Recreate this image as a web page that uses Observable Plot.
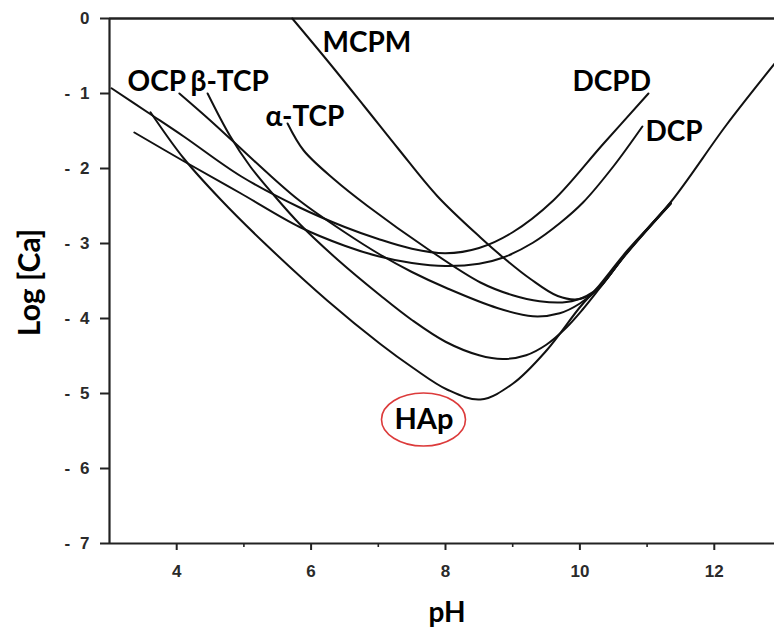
<!DOCTYPE html>
<html>
<head>
<meta charset="utf-8">
<script src="https://cdn.jsdelivr.net/npm/d3@7"></script>
<script src="https://cdn.jsdelivr.net/npm/@observablehq/plot@0.6"></script>
<style>
  html, body { margin: 0; padding: 0; background: #fff; }
</style>
</head>
<body>
<div id="chart"></div>
<script>
// ---- Solubility isotherms: log[Ca] vs pH ----
const mcpmPH  = [5.72, 6.25, 6.8, 7.3, 7.88, 8.52, 8.85, 9.26, 9.67, 10.0, 10.25, 10.7, 11.35];
const mcpmLog = [0, -0.57, -1.18, -1.74, -2.37, -2.92, -3.18, -3.47, -3.7, -3.74, -3.62, -3.12, -2.46];

const dcpdPH  = [3.03, 3.6, 4.1, 4.95, 5.83, 6.5, 7.0, 7.5, 8.0, 8.5, 9.0, 9.6, 10.34, 11.02];
const dcpdLog = [-0.93, -1.27, -1.57, -2.1, -2.52, -2.78, -2.94, -3.07, -3.13, -3.06, -2.85, -2.43, -1.68, -1.0];

const dcpPH  = [3.37, 4.1, 4.95, 5.83, 6.5, 7.0, 7.5, 8.0, 8.5, 8.85, 9.3, 9.7, 10.05, 10.5, 10.93];
const dcpLog = [-1.52, -1.9, -2.33, -2.78, -3.03, -3.17, -3.26, -3.3, -3.27, -3.19, -2.99, -2.73, -2.45, -1.97, -1.44];

const ocpPH  = [4.04, 4.45, 4.83, 5.4, 5.83, 6.5, 7.03, 7.5, 8.03, 8.77, 9.3, 9.7, 10.0, 10.3, 10.7, 11.35];
const ocpLog = [-1.0, -1.32, -1.63, -2.1, -2.43, -2.85, -3.15, -3.38, -3.6, -3.86, -3.97, -3.93, -3.8, -3.58, -3.12, -2.47];

const btcpPH  = [4.46, 4.79, 5.1, 5.45, 5.83, 6.4, 7.04, 7.5, 8.0, 8.5, 8.85, 9.2, 9.5, 9.8, 10.05, 10.3, 10.7, 11.35];
const btcpLog = [-1.0, -1.56, -1.98, -2.36, -2.74, -3.22, -3.7, -4.02, -4.31, -4.49, -4.54, -4.49, -4.35, -4.12, -3.87, -3.59, -3.13, -2.47];

const atcpPH  = [5.65, 5.89, 6.35, 6.84, 7.73, 8.52, 9.0, 9.4, 9.8, 10.1, 10.3, 10.7, 11.35];
const atcpLog = [-1.4, -1.76, -2.15, -2.5, -3.07, -3.52, -3.69, -3.77, -3.78, -3.7, -3.57, -3.12, -2.46];

const hapPH  = [3.61, 4.1, 4.65, 5.3, 6.24, 7.03, 7.52, 8.03, 8.52, 9.0, 9.5, 10.0, 10.25, 10.7, 11.35, 12.18, 12.9];
const hapLog = [-1.25, -1.86, -2.41, -2.99, -3.76, -4.34, -4.66, -4.95, -5.08, -4.87, -4.43, -3.85, -3.6, -3.1, -2.45, -1.42, -0.6];

// ---- Phase labels (placed in data units) ----
const labelNames = ["MCPM", "OCP", "β-TCP", "α-TCP", "DCPD", "DCP"];
const labelPH    = [6.17, 3.268, 4.205, 5.32, 9.89, 10.976];
const labelLog   = [-0.453, -0.96, -0.96, -1.427, -0.96, -1.627];

const hapLabel = ["HAp"];
const hapLabelPH = [7.68];
const hapLabelLog = [-5.467];

// ---- Axes ----
const xTicks = [4, 6, 8, 10, 12];
const xTickText = ["4", "6", "8", "10", "12"];
const xMinorTicks = [5, 7, 9, 11];
const yTicks = [0, -1, -2, -3, -4, -5, -6, -7];
const yTickText = ["0", "-\u2002\u200a1", "-\u2002\u200a2", "-\u2002\u200a3", "-\u2002\u200a4", "-\u2002\u200a5", "-\u2002\u200a6", "-\u2002\u200a7"];
const xTitle = "pH";
const yTitle = "Log [Ca]";

// ---- Build tables ----
const series = [
  {name: "MCPM", ph: mcpmPH, log: mcpmLog},
  {name: "DCPD", ph: dcpdPH, log: dcpdLog},
  {name: "DCP", ph: dcpPH, log: dcpLog},
  {name: "OCP", ph: ocpPH, log: ocpLog},
  {name: "β-TCP", ph: btcpPH, log: btcpLog},
  {name: "α-TCP", ph: atcpPH, log: atcpLog},
  {name: "HAp", ph: hapPH, log: hapLog}
];
const rows = series.flatMap(s => s.ph.map((p, i) => ({name: s.name, pH: p, logCa: s.log[i]})));
const labels = labelNames.map((n, i) => ({name: n, pH: labelPH[i], logCa: labelLog[i]}));
const hapLabels = hapLabel.map((n, i) => ({name: n, pH: hapLabelPH[i], logCa: hapLabelLog[i]}));

function ringMark(...args) {
  const scales = args.find(a => a && typeof a.x === "function" && typeof a.y === "function");
  const g = d3.create("svg:g");
  hapLabels.forEach(d => {
    g.append("ellipse")
      .attr("cx", scales.x(d.pH))
      .attr("cy", scales.y(d.logCa) - 8.5)
      .attr("rx", 42)
      .attr("ry", 26.5)
      .attr("fill", "none")
      .attr("stroke", "#dc3b3b")
      .attr("stroke-width", 1.6);
  });
  return g.node();
}

const labelFont = "Lato, 'Open Sans', sans-serif";

const chart = Plot.plot({
  width: 774,
  height: 628,
  marginLeft: 109,
  marginRight: 0,
  marginTop: 18,
  marginBottom: 85,
  x: {domain: [3, 12.896]},
  y: {domain: [-7, 0]},
  style: {fontFamily: "'Liberation Sans', Arial, sans-serif", fontSize: "17px", color: "#222", background: "#fff"},
  marks: [
    Plot.axisY({ticks: yTicks, tickSize: 9, tickPadding: 11, strokeWidth: 2, fill: "#2a2a2a", fontWeight: "bold", fontSize: 17,
      tickFormat: d => yTickText[yTicks.indexOf(d)], label: null}),
    Plot.axisX({ticks: xTicks, tickSize: 7, tickPadding: 14, strokeWidth: 2, fill: "#2a2a2a", fontWeight: "bold", fontSize: 17,
      tickFormat: d => xTickText[xTicks.indexOf(d)], label: null}),
    Plot.axisX({ticks: xMinorTicks, tickSize: 4, strokeWidth: 1.6, tickFormat: () => "", label: null}),
    Plot.ruleY([0], {stroke: "#222", strokeWidth: 2.4}),
    Plot.ruleY([-7], {stroke: "#222", strokeWidth: 2.2}),
    Plot.ruleX([3], {stroke: "#222", strokeWidth: 2.2}),
    Plot.line(rows, {x: "pH", y: "logCa", z: "name", curve: "catmull-rom", stroke: "#111", strokeWidth: 2}),
    Plot.text(labels, {x: "pH", y: "logCa", text: "name", textAnchor: "start", lineAnchor: "bottom",
      fontFamily: labelFont, fontWeight: "bold", fontSize: 28, fill: "#000"}),
    Plot.text(hapLabels, {x: "pH", y: "logCa", text: "name", textAnchor: "middle", lineAnchor: "bottom",
      fontFamily: labelFont, fontWeight: "bold", fontSize: 29, fill: "#000"}),
    ringMark,
    Plot.text([yTitle], {text: d => d, frameAnchor: "left", dx: -79, dy: 1.5, rotate: -90, textAnchor: "middle", lineAnchor: "middle",
      fontFamily: labelFont, fontWeight: "bold", fontSize: 30, fill: "#000"}),
    Plot.text([xTitle], {text: d => d, frameAnchor: "bottom", dx: 5, dy: 78, textAnchor: "middle", lineAnchor: "bottom",
      fontFamily: labelFont, fontWeight: "bold", fontSize: 28, fill: "#000"})
  ]
});
document.getElementById("chart").appendChild(chart);
</script>
</body>
</html>
